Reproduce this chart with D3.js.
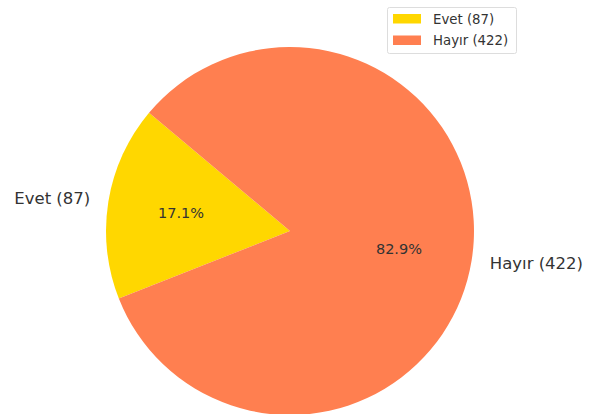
<!DOCTYPE html>
<html>
<head>
<meta charset="utf-8">
<script src="https://cdn.jsdelivr.net/npm/d3@7"></script>
<style>
  html, body { margin: 0; padding: 0; background: #fff; }
  svg { display: block; font-family: "DejaVu Sans", sans-serif; }
</style>
</head>
<body>
<svg id="chart" width="603" height="414"></svg>
<script>
const categories = ["Evet", "Hayır"];
const counts = [87, 422];
const colors = ["#FFD700", "#FF7F50"];
const labels = categories.map((c, i) => `${c} (${counts[i]})`);

const W = 603, H = 414;
const cx = 290, cy = 231, R = 184;
const svg = d3.select("#chart");

const deg = Math.PI / 180;
const startMpl = 140; // matplotlib startangle, counterclockwise
const pie = d3.pie().sort(null).value(d => d)
  .startAngle((90 - startMpl) * deg)
  .endAngle((90 - startMpl - 360) * deg);
const arcs = pie(counts);
const total = d3.sum(counts);

const g = svg.append("g").attr("transform", `translate(${cx},${cy})`);
const arc = d3.arc().innerRadius(0).outerRadius(R);

g.selectAll("path.slice").data(arcs).join("path")
  .attr("class", "slice")
  .attr("d", arc)
  .attr("fill", (d, i) => colors[i]);

const labelArc = d3.arc().innerRadius(R * 1.1).outerRadius(R * 1.1);
const pctArc = d3.arc().innerRadius(R * 0.6).outerRadius(R * 0.6);

g.selectAll("text.lbl").data(arcs).join("text")
  .attr("class", "lbl")
  .attr("x", d => labelArc.centroid(d)[0])
  .attr("y", d => labelArc.centroid(d)[1])
  .attr("dy", "0.35em")
  .attr("text-anchor", d => labelArc.centroid(d)[0] < 0 ? "end" : "start")
  .attr("font-size", 16.5)
  .attr("fill", "#333")
  .text((d, i) => labels[i]);

g.selectAll("text.pct").data(arcs).join("text")
  .attr("class", "pct")
  .attr("x", d => pctArc.centroid(d)[0])
  .attr("y", d => pctArc.centroid(d)[1])
  .attr("dy", "0.35em")
  .attr("text-anchor", "middle")
  .attr("font-size", 14.5)
  .attr("fill", "#333")
  .text(d => (d.value / total * 100).toFixed(1) + "%");

// Legend
const lg = svg.append("g").attr("transform", "translate(387,7)");
lg.append("rect")
  .attr("x", 0.5).attr("y", 0.5)
  .attr("width", 129).attr("height", 46)
  .attr("rx", 2).attr("fill", "#fff")
  .attr("stroke", "#ddd").attr("stroke-width", 1);
categories.forEach((c, i) => {
  lg.append("rect")
    .attr("x", 6).attr("y", 7 + i * 21.5)
    .attr("width", 28).attr("height", 9.5)
    .attr("fill", colors[i]);
  lg.append("text")
    .attr("x", 46).attr("y", 12 + i * 21.5)
    .attr("dy", "0.35em")
    .attr("font-size", 13.3)
    .attr("fill", "#333")
    .text(labels[i]);
});
</script>
</body>
</html>
